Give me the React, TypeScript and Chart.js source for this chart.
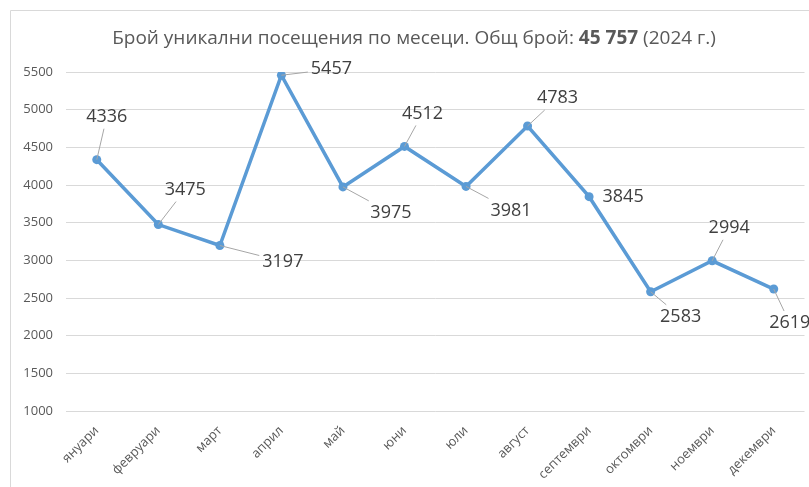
import { useEffect, useRef } from 'react';
import { Chart, registerables } from 'chart.js';

Chart.register(...registerables);

const months = ['януари', 'февруари', 'март', 'април', 'май', 'юни', 'юли', 'август', 'септември', 'октомври', 'ноември', 'декември'];
const visits = [4336, 3475, 3197, 5457, 3975, 4512, 3981, 4783, 3845, 2583, 2994, 2619];
const yMin = 1000;
const yMax = 5500;
const yStep = 500;
const titleParts = [
  { text: 'Брой уникални посещения по месеци. Общ брой: ', bold: false },
  { text: '45 757', bold: true },
  { text: ' (2024 г.)', bold: false },
];
// label placement relative to each point (px): [dx, dy] of the label centre
const labelOffsets = [
  [10, -43], [27, -35], [63, 16], [50, -6], [48, 26], [18, -33],
  [45, 24], [30, -28], [34, 0], [30, 25], [17, -33], [16, 34],
];

const FONT = '"Open Sans", "Noto Sans", sans-serif';

const overlay = {
  id: 'overlay',
  afterDatasetsDraw(chart: any) {
    const ctx = chart.ctx as CanvasRenderingContext2D;
    const meta = chart.getDatasetMeta(0);
    ctx.save();
    ctx.font = `18px ${FONT}`;
    ctx.textAlign = 'center';
    ctx.textBaseline = 'middle';
    meta.data.forEach((pt: any, i: number) => {
      const [dx, dy] = labelOffsets[i];
      const text = String(visits[i]);
      const w = ctx.measureText(text).width;
      const hw = w / 2 + 3;
      const hh = 12;
      const cx = pt.x + dx;
      const cy = pt.y + dy;
      const tx = Math.abs(dx) > 0 ? hw / Math.abs(dx) : Infinity;
      const ty = Math.abs(dy) > 0 ? hh / Math.abs(dy) : Infinity;
      const t = 1 - Math.min(tx, ty, 1);
      const ex = pt.x + dx * t;
      const ey = pt.y + dy * t;
      const len = Math.hypot(ex - pt.x, ey - pt.y);
      if (len > 14) {
        ctx.strokeStyle = '#a6a6a6';
        ctx.lineWidth = 1;
        ctx.beginPath();
        ctx.moveTo(pt.x, pt.y);
        ctx.lineTo(ex, ey);
        ctx.stroke();
      }
      ctx.fillStyle = '#404040';
      ctx.fillText(text, cx, cy);
    });
    ctx.restore();
  },
  afterDraw(chart: any) {
    const ctx = chart.ctx as CanvasRenderingContext2D;
    ctx.save();
    ctx.strokeStyle = '#d9d9d9';
    ctx.lineWidth = 1;
    ctx.beginPath();
    ctx.moveTo(10.5, chart.height + 5);
    ctx.lineTo(10.5, 10.5);
    ctx.lineTo(chart.width + 5, 10.5);
    ctx.stroke();
    const size = 19;
    let total = 0;
    const widths = titleParts.map((p) => {
      ctx.font = `${p.bold ? 'bold ' : ''}${size}px ${FONT}`;
      const w = ctx.measureText(p.text).width;
      total += w;
      return w;
    });
    let x = 414 - total / 2;
    ctx.fillStyle = '#595959';
    ctx.textBaseline = 'middle';
    ctx.textAlign = 'left';
    titleParts.forEach((p, i) => {
      ctx.font = `${p.bold ? 'bold ' : ''}${size}px ${FONT}`;
      ctx.fillText(p.text, x, 39);
      x += widths[i];
    });
    ctx.restore();
  },
};

export default function App() {
  const ref = useRef<HTMLCanvasElement | null>(null);
  useEffect(() => {
    if (!ref.current) return;
    const chart = new Chart(ref.current, {
      type: 'line',
      data: {
        labels: months,
        datasets: [
          {
            data: visits,
            borderColor: '#5B9BD5',
            backgroundColor: '#5B9BD5',
            borderWidth: 3.5,
            pointRadius: 4.5,
            pointBorderWidth: 0,
            pointBackgroundColor: '#5B9BD5',
            tension: 0,
          },
        ],
      },
      options: {
        responsive: false,
        animation: false,
        layout: { padding: { top: 72, right: 4, left: 0, bottom: 0 } },
        plugins: { legend: { display: false }, title: { display: false }, tooltip: { enabled: false } },
        scales: {
          x: {
            offset: true,
            grid: { display: false, drawTicks: false },
            border: { display: false },
            ticks: {
              color: '#595959',
              font: { family: FONT, size: 13 },
              minRotation: 45,
              maxRotation: 45,
              padding: 12,
              autoSkip: false,
            },
            afterFit(scale: any) {
              scale.height = 76;
            },
          },
          y: {
            min: yMin,
            max: yMax,
            grid: { color: '#d9d9d9', lineWidth: 1, drawTicks: false },
            border: { display: false },
            ticks: {
              stepSize: yStep,
              color: '#595959',
              font: { family: FONT, size: 13 },
              padding: 13,
              callback: (v: any) => String(v),
            },
            afterFit(scale: any) {
              scale.width = 66;
            },
          },
        },
      },
      plugins: [overlay],
    });
    return () => chart.destroy();
  }, []);
  return (
    <div style={{ position: 'fixed', left: 0, top: 0, width: 809, height: 487, background: '#fff' }}>
      <canvas ref={ref} width={809} height={487} style={{ display: 'block' }} />
    </div>
  );
}
